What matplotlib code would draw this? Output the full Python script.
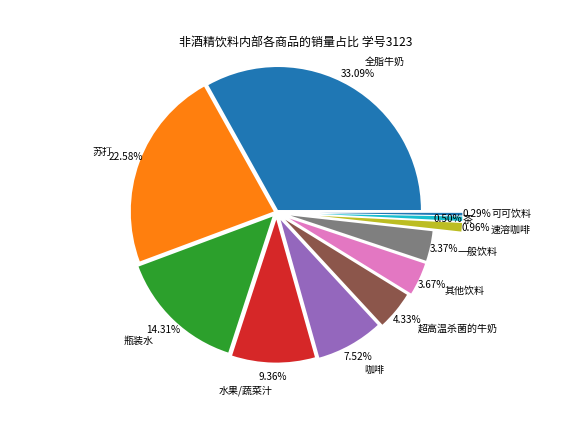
import matplotlib.pyplot as plt

plt.rcParams['font.family'] = ['Noto Sans CJK SC', 'DejaVu Sans']
plt.rcParams['axes.unicode_minus'] = False

# drink names and their share of sales (percent)
labels = ['全脂牛奶', '苏打', '瓶装水', '水果/蔬菜汁', '咖啡', '超高温杀菌的牛奶',
          '其他饮料', '一般饮料', '速溶咖啡', '茶', '可可饮料']
shares = [33.09, 22.58, 14.31, 9.36, 7.52, 4.33, 3.67, 3.37, 0.96, 0.50, 0.29]
explode = [0.02, 0.02, 0.04, 0.05, 0.06, 0.08, 0.1, 0.1, 0.3, 0.3, 0.3]

# show the shares as given (they add up to 99.98, not 100)
share_iter = iter(shares)
def pct_text(p):
    return '%.2f%%' % next(share_iter)

fig = plt.figure(figsize=(8, 6), dpi=72)
ax = fig.add_subplot(111)
wedges, texts, autotexts = ax.pie(shares, labels=labels, explode=explode,
                                  autopct=pct_text, pctdistance=1.1, labeldistance=1.2,
                                  textprops={'fontsize': 10})
# the tea labels sit closer in than their wedge
for t in (texts[9], autotexts[9]):
    x, y = t.get_position()
    t.set_position((x - 0.2, y))

ax.set_xlim(-1.43, 1.692)
ax.set_ylim(-1.203, 1.1235)
ax.set_title('非酒精饮料内部各商品的销量占比 学号3123', fontsize=12)
fig.savefig('out.png', dpi=72)
